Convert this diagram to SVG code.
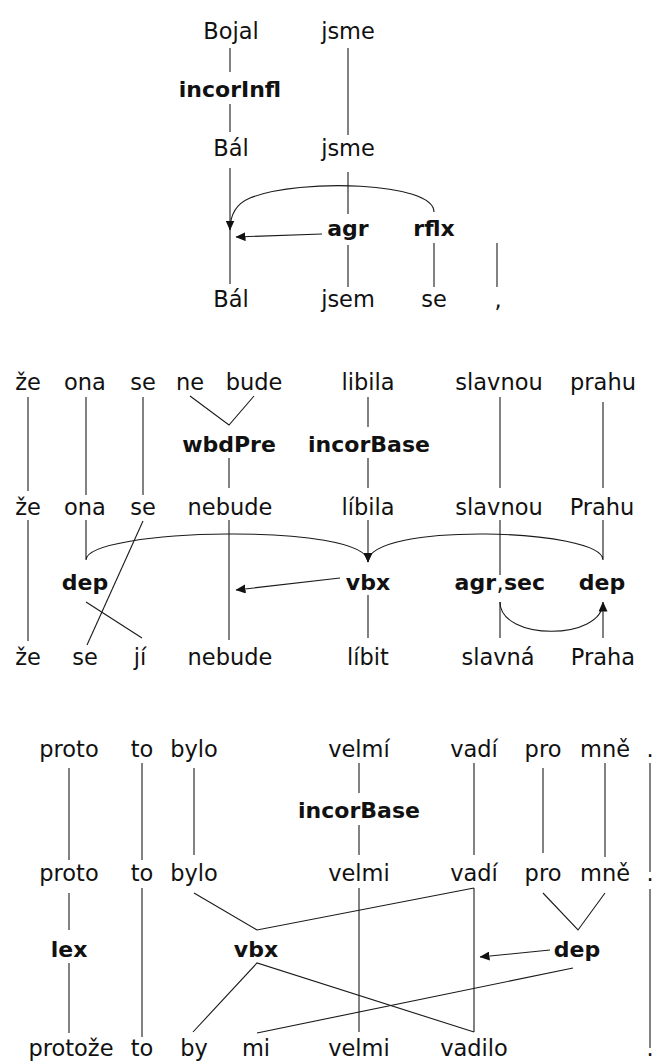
<svg xmlns="http://www.w3.org/2000/svg" width="658" height="1061" viewBox="0 0 658 1061">
  <style>
    text { font-family: "DejaVu Sans", "Open Sans", sans-serif; font-size: 22.5px; fill: #111; text-anchor: middle; }
    .b { font-weight: bold; font-size: 22px; }
    .ln { stroke: #1a1a1a; stroke-width: 1.1; fill: none; }
    .ar { marker-end: url(#head); }
  </style>
  <defs>
    <marker id="head" markerUnits="userSpaceOnUse" markerWidth="10" markerHeight="9" refX="9.5" refY="4.5" orient="auto" viewBox="0 0 10 9">
      <path d="M0,0 L10,4.5 L0,9 z" fill="#111"/>
    </marker>
  </defs>

  <!-- connectors -->
  <g id="connectors">
    <!-- sentence 1 -->
    <line class="ln" x1="230" y1="48" x2="230" y2="72"/>
    <line class="ln" x1="230" y1="104" x2="230" y2="132"/>
    <line class="ln" x1="348" y1="48" x2="348" y2="135"/>
    <line class="ln" x1="230" y1="168" x2="230" y2="284"/>
    <path class="ln ar" d="M434,212 C434,182 300,178 250,198 C238,203 230,212 230,230"/>
    <line class="ln" x1="348" y1="172" x2="348" y2="214"/>
    <line class="ln ar" x1="322" y1="234" x2="236" y2="237"/>
    <line class="ln" x1="348" y1="245" x2="348" y2="287"/>
    <line class="ln" x1="434" y1="243" x2="434" y2="287"/>
    <line class="ln" x1="497" y1="243" x2="497" y2="287"/>

    <!-- sentence 2 -->
    <line class="ln" x1="28" y1="397" x2="28" y2="491"/>
    <line class="ln" x1="28" y1="520" x2="28" y2="641"/>
    <line class="ln" x1="86" y1="397" x2="86" y2="495"/>
    <path class="ln ar" d="M86,520 L86,560 C86,528 368,522 368,562"/>
    <path class="ln ar" d="M603,520 L603,560 C603,528 368,522 368,562"/>
    <line class="ln" x1="143" y1="397" x2="143" y2="495"/>
    <line class="ln" x1="143" y1="521" x2="87" y2="645"/>
    <polyline class="ln" points="190,396 229,425 254,396"/>
    <line class="ln" x1="229" y1="458" x2="229" y2="488"/>
    <line class="ln" x1="229" y1="520" x2="229" y2="640"/>
    <line class="ln" x1="368" y1="397" x2="368" y2="427"/>
    <line class="ln" x1="368" y1="458" x2="368" y2="488"/>
    <line class="ln" x1="368" y1="520" x2="368" y2="560"/>
    <line class="ln" x1="86" y1="602" x2="142" y2="638"/>
    <line class="ln ar" x1="340" y1="578" x2="236" y2="590"/>
    <line class="ln" x1="368" y1="595" x2="368" y2="638"/>
    <line class="ln" x1="500" y1="397" x2="500" y2="488"/>
    <line class="ln" x1="500" y1="520" x2="500" y2="575"/>
    <line class="ln" x1="500" y1="602" x2="500" y2="638"/>
    <path class="ln ar" d="M500,602 C500,641 603,641 603,602"/>
    <line class="ln" x1="603" y1="611" x2="603" y2="638"/>
    <line class="ln" x1="603" y1="402" x2="603" y2="488"/>

    <!-- sentence 3 -->
    <line class="ln" x1="69" y1="768" x2="69" y2="860"/>
    <line class="ln" x1="69" y1="893" x2="69" y2="930"/>
    <line class="ln" x1="69" y1="963" x2="69" y2="1033"/>
    <line class="ln" x1="142" y1="763" x2="142" y2="860"/>
    <line class="ln" x1="142" y1="888" x2="142" y2="1037"/>
    <line class="ln" x1="194" y1="768" x2="194" y2="855"/>
    <polyline class="ln" points="194,893 257,930 474,888"/>
    <line class="ln" x1="474" y1="763" x2="474" y2="855"/>
    <line class="ln" x1="474" y1="888" x2="474" y2="1032"/>
    <polyline class="ln" points="193,1032 257,963 474,1032"/>
    <line class="ln" x1="573" y1="968" x2="257" y2="1033"/>
    <line class="ln ar" x1="550" y1="950" x2="480" y2="957"/>
    <polyline class="ln" points="543,893 578,930 605,893"/>
    <line class="ln" x1="359" y1="763" x2="359" y2="793"/>
    <line class="ln" x1="359" y1="825" x2="359" y2="855"/>
    <line class="ln" x1="359" y1="888" x2="359" y2="1032"/>
    <line class="ln" x1="543" y1="768" x2="543" y2="853"/>
    <line class="ln" x1="605" y1="763" x2="605" y2="857"/>
    <line class="ln" x1="650" y1="763" x2="650" y2="872"/>
    <line class="ln" x1="650" y1="889" x2="650" y2="1048"/>
  </g>

  <!-- sentence 1 nodes -->
  <g id="s1-row1"><text x="231" y="39">Bojal</text><text x="348" y="39">jsme</text></g>
  <g id="s1-row2"><text class="b" x="230" y="97">incorInfl</text></g>
  <g id="s1-row3"><text x="231" y="156">Bál</text><text x="348" y="156">jsme</text></g>
  <g id="s1-row4"><text class="b" x="348" y="236">agr</text><text class="b" x="434" y="236">rflx</text></g>
  <g id="s1-row5"><text x="231" y="307">Bál</text><text x="348" y="307">jsem</text><text x="434" y="307">se</text><text x="498" y="307">,</text></g>

  <!-- sentence 2 nodes -->
  <g id="s2-row1">
    <text x="28" y="390">že</text><text x="85" y="390">ona</text><text x="143" y="390">se</text>
    <text x="190" y="390">ne</text><text x="254" y="390">bude</text><text x="368" y="390">libila</text>
    <text x="499" y="390">slavnou</text><text x="603" y="390">prahu</text>
  </g>
  <g id="s2-row2"><text class="b" x="229" y="452">wbdPre</text><text class="b" x="369" y="452">incorBase</text></g>
  <g id="s2-row3">
    <text x="28" y="515">že</text><text x="85" y="515">ona</text><text x="143" y="515">se</text>
    <text x="230" y="515">nebude</text><text x="368" y="515">líbila</text>
    <text x="499" y="515">slavnou</text><text x="602" y="515">Prahu</text>
  </g>
  <g id="s2-row4">
    <text class="b" x="85" y="590">dep</text><text class="b" x="368" y="590">vbx</text>
    <text class="b" x="496" y="590" style="text-anchor:end">agr</text><text x="500" y="590">,</text><text class="b" x="504" y="590" style="text-anchor:start">sec</text>
    <text class="b" x="602" y="590">dep</text>
  </g>
  <g id="s2-row5">
    <text x="28" y="665">že</text><text x="85" y="665">se</text><text x="140" y="665">jí</text>
    <text x="230" y="665">nebude</text><text x="368" y="665">líbit</text>
    <text x="498" y="665">slavná</text><text x="603" y="665">Praha</text>
  </g>

  <!-- sentence 3 nodes -->
  <g id="s3-row1">
    <text x="69" y="757">proto</text><text x="142" y="757">to</text><text x="194" y="757">bylo</text>
    <text x="359" y="757">velmí</text><text x="474" y="757">vadí</text><text x="543" y="757">pro</text>
    <text x="605" y="757">mně</text><text x="650" y="757">.</text>
  </g>
  <g id="s3-row2"><text class="b" x="359" y="818">incorBase</text></g>
  <g id="s3-row3">
    <text x="69" y="881">proto</text><text x="142" y="881">to</text><text x="194" y="881">bylo</text>
    <text x="359" y="881">velmi</text><text x="474" y="881">vadí</text><text x="543" y="881">pro</text>
    <text x="605" y="881">mně</text><text x="650" y="881">.</text>
  </g>
  <g id="s3-row4"><text class="b" x="69" y="957">lex</text><text class="b" x="256" y="957">vbx</text><text class="b" x="577" y="957">dep</text></g>
  <g id="s3-row5">
    <text x="71" y="1056">protože</text><text x="142" y="1056">to</text><text x="194" y="1056">by</text>
    <text x="256" y="1056">mi</text><text x="359" y="1056">velmi</text><text x="474" y="1056">vadilo</text>
    <text x="650" y="1056">.</text>
  </g>
</svg>
